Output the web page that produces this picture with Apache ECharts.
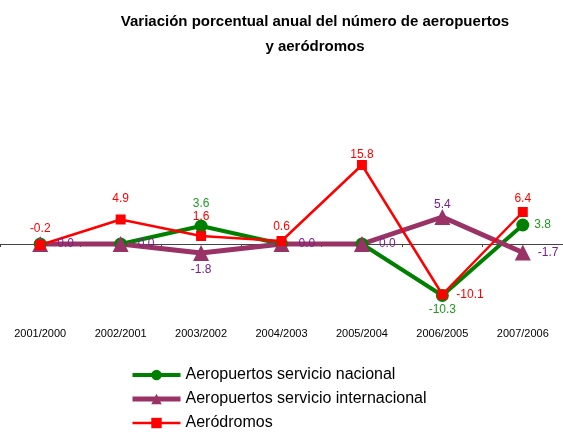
<!DOCTYPE html>
<html>
<head>
<meta charset="utf-8">
<title>Variación porcentual anual</title>
<script src="https://cdn.jsdelivr.net/npm/echarts@6/dist/echarts.min.js"></script>
<style>
  html, body { margin: 0; padding: 0; background: #fff; }
  #main { width: 563px; height: 433px; }
</style>
</head>
<body>
<div id="main"></div>
<script>
  // datos
  var periodos = ['2001/2000', '2002/2001', '2003/2002', '2004/2003', '2005/2004', '2006/2005', '2007/2006'];
  var nacional = [0.0, 0.0, 3.6, 0.0, 0.0, -10.3, 3.8];
  var internacional = [0.0, 0.0, -1.8, 0.0, 0.0, 5.4, -1.7];
  var aerodromos = [-0.2, 4.9, 1.6, 0.6, 15.8, -10.1, 6.4];

  // donde va cada etiqueta (posicion y separacion)
  var posNacional = [null, null, 'top', null, null, 'bottom', 'right'];
  var sepNacional = [0, 0, 10, 0, 0, 2, 5];
  var posInternacional = ['right', 'right', 'bottom', 'right', 'right', 'top', 'right'];
  var sepInternacional = [9, 9, 3, 9, 9, -2, 7];
  var posAerodromos = ['top', 'top', 'top', 'top', 'top', 'right', 'top'];
  var sepAerodromos = [5, 10, 8, 3, -1, 9, 2];

  function puntos(valores, posiciones, separaciones) {
    return valores.map(function (v, i) {
      var p = posiciones[i];
      return {
        value: v,
        label: p ? { show: true, position: p, distance: separaciones[i] } : { show: false }
      };
    });
  }

  var fuente = 'Liberation Sans, Arial, sans-serif';
  var myChart = echarts.init(document.getElementById('main'));

  var option = {
    animation: false,
    title: {
      text: 'Variación porcentual anual del número de aeropuertos\ny aeródromos',
      left: 310,
      textAlign: 'center',
      top: 4,
      textStyle: {
        fontFamily: fuente,
        fontSize: 15,
        fontWeight: 'bold',
        color: '#000',
        lineHeight: 25
      }
    },
    legend: {
      orient: 'vertical',
      left: 130,
      top: 365,
      padding: 0,
      itemGap: 4,
      itemWidth: 48,
      itemHeight: 13,
      textStyle: {
        fontFamily: fuente,
        fontSize: 16,
        lineHeight: 20,
        color: '#000'
      },
      data: [
        { name: 'Aeropuertos servicio nacional', lineStyle: { width: 4 } },
        { name: 'Aeropuertos servicio internacional', lineStyle: { width: 5 } },
        { name: 'Aeródromos', lineStyle: { width: 2.5 } }
      ]
    },
    grid: {
      left: 0,
      right: -4,
      top: 144,
      bottom: 119
    },
    xAxis: {
      type: 'category',
      data: periodos,
      boundaryGap: true,
      axisLine: { onZero: true, lineStyle: { color: '#444', width: 1 } },
      axisTick: { show: true, length: 3, lineStyle: { color: '#444' } },
      axisLabel: {
        margin: 14,
        fontFamily: fuente,
        fontSize: 11,
        color: '#000',
        interval: 0
      }
    },
    yAxis: {
      type: 'value',
      min: -14,
      max: 20,
      show: false,
      splitLine: { show: false }
    },
    series: [
      {
        name: 'Aeropuertos servicio nacional',
        type: 'line',
        symbol: 'circle',
        symbolSize: 13,
        color: '#008000',
        lineStyle: { width: 4, color: '#008000' },
        itemStyle: { color: '#008000' },
        label: {
          fontFamily: fuente,
          fontSize: 12,
          color: '#1f9a1f',
          formatter: function (p) { return p.value.toFixed(1); }
        },
        data: puntos(nacional, posNacional, sepNacional)
      },
      {
        name: 'Aeropuertos servicio internacional',
        type: 'line',
        symbol: 'triangle',
        symbolSize: 16,
        color: '#993366',
        lineStyle: { width: 5, color: '#993366' },
        itemStyle: { color: '#993366' },
        label: {
          fontFamily: fuente,
          fontSize: 12,
          color: '#7a1f8a',
          formatter: function (p) { return p.value.toFixed(1); }
        },
        data: puntos(internacional, posInternacional, sepInternacional)
      },
      {
        name: 'Aeródromos',
        type: 'line',
        symbol: 'rect',
        symbolSize: 10,
        color: '#ff0000',
        lineStyle: { width: 2.5, color: '#ff0000' },
        itemStyle: { color: '#ff0000' },
        label: {
          fontFamily: fuente,
          fontSize: 12,
          color: '#ff0000',
          formatter: function (p) { return p.value.toFixed(1); }
        },
        data: puntos(aerodromos, posAerodromos, sepAerodromos)
      }
    ]
  };

  myChart.setOption(option);
</script>
</body>
</html>
